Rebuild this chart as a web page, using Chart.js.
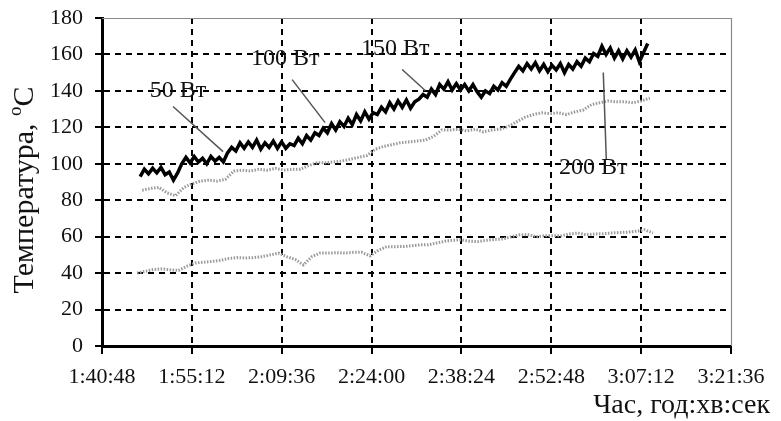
<!DOCTYPE html>
<html>
<head>
<meta charset="utf-8">
<script src="https://cdn.jsdelivr.net/npm/chart.js@4.4.1/dist/chart.umd.min.js"></script>
<style>
  html, body { margin: 0; padding: 0; background: #fff; }
  #wrap { width: 781px; height: 421px; }
</style>
</head>
<body>
<div id="wrap"><canvas id="c" width="781" height="421"></canvas></div>
<script>
// time axis in seconds since 0:00:00
const X_MIN = 6048, X_MAX = 12096, X_STEP = 864;
const Y_MIN = 0, Y_MAX = 180, Y_STEP = 20;

// upper (black) channel, logged every 40 s
const topStart = 6415, topStep = 40;
const topTemp = [
  93, 97, 94.5, 97.5, 95, 98, 94, 95.5, 91, 95,
  100, 103.5, 100.5, 104, 101, 103, 100, 104, 101.5, 103.5,
  101, 106, 109, 107, 111.5, 108.5, 112, 109, 113, 108,
  111.5, 109, 112.5, 108.5, 112, 108.5, 111, 110, 114, 111,
  115.5, 113, 117, 115.5, 119.5, 117, 122, 118.5, 123, 120.5,
  125, 121.5, 127, 123.5, 128.5, 124.5, 128, 127, 131, 128.5,
  133.5, 130, 134.5, 131, 135, 130.5, 134, 135.5, 138, 136.5,
  141, 138, 143.5, 141, 145, 140.5, 144, 140.5, 143.5, 140,
  143.5, 139.5, 136.5, 140, 138.5, 142.5, 140.5, 144.5, 142.5, 146.5,
  150, 153.5, 151, 155, 152, 155.5, 151, 154.5, 150.5, 154,
  151.5, 155, 150, 154.5, 152, 156, 153.5, 158, 156, 160.5,
  159, 164.5, 160, 163.5, 158, 162, 157.5, 162, 158.5, 162.5,
  156, 161, 166
];

// middle (grey) channel, every 80 s
const midStart = 6435, midStep = 80;
const midTemp = [
  85.5, 86.5, 87, 84, 82.5, 87, 89, 90.5, 91, 90.5,
  91.5, 96, 96.5, 96, 97, 96.5, 97.5, 96.5, 97, 97,
  99, 100.5, 100.5, 101, 101.5, 102.5, 103.5, 104.5, 108, 109.5,
  110.5, 111.5, 112, 112.5, 113, 115, 118.5, 118.5, 119, 118,
  119, 117.5, 118.5, 119, 120.5, 123, 125.5, 127, 128, 127.5,
  128, 127, 128.5, 129.5, 132.5, 133.5, 134.5, 134, 134, 133.5,
  134.5, 136
];

// lower (grey) channel, every 80 s
const lowStart = 6385, lowStep = 80;
const lowTemp = [
  40, 41, 42, 42.3, 41.8, 41.5, 43.8, 45.5, 46, 46.4,
  47, 48, 48.5, 48.3, 48.5, 49, 50, 51, 49, 47.5,
  44.5, 49, 51, 51, 51.2, 51, 51.4, 51.4, 49.5, 52.5,
  54.5, 54.5, 54.6, 55, 55.5, 55.5, 56.5, 57.5, 58, 58.3,
  57.5, 57.3, 58, 58.5, 58.7, 60, 61, 61, 60, 60.5,
  60.5, 60.5, 61.5, 62, 61, 61.5, 61.6, 62, 62.3, 62.5,
  63, 63.8, 62
];

// power labels: text anchor and leader line, in data units (s, °C)
const powerLabels = ['50 Вт', '100 Вт', '150 Вт', '200 Вт'];
const labelAt  = [[6779, 140.2], [7809, 157.8], [8867, 163.3], [10772, 97.9]];
const leaderFrom = [[6731, 131.4], [7876, 146.2], [8934, 151.7], [10868, 150.1]];
const leaderTo   = [[7212, 106.7], [8193, 122.6], [9156, 140.2], [10897, 102.3]];

const yTitle = 'Температура, ';
const xTitle = 'Час, год:хв:сек';

const SERIF = "'Liberation Serif', 'Times New Roman', serif";

function toPoints(start, step, arr) {
  return arr.map((v, i) => ({ x: start + i * step, y: v }));
}

function hms(sec) {
  const h = Math.floor(sec / 3600);
  const m = Math.floor((sec % 3600) / 60);
  const s = Math.round(sec % 60);
  return h + ':' + String(m).padStart(2, '0') + ':' + String(s).padStart(2, '0');
}

const decor = {
  id: 'decor',
  beforeDatasetsDraw(chart) {
    const { ctx, chartArea: a } = chart;
    ctx.save();
    ctx.strokeStyle = '#8a8a8a';
    ctx.lineWidth = 1.2;
    ctx.beginPath();
    ctx.moveTo(a.left, a.top + 0.5);
    ctx.lineTo(a.right + 0.5, a.top + 0.5);
    ctx.lineTo(a.right + 0.5, a.bottom);
    ctx.stroke();
    ctx.restore();
  },
  afterDraw(chart) {
    const { ctx, scales: { x, y } } = chart;
    ctx.save();
    // leader lines
    ctx.strokeStyle = '#555';
    ctx.lineWidth = 1.5;
    leaderFrom.forEach((p, i) => {
      const q = leaderTo[i];
      ctx.beginPath();
      ctx.moveTo(x.getPixelForValue(p[0]), y.getPixelForValue(p[1]));
      ctx.lineTo(x.getPixelForValue(q[0]), y.getPixelForValue(q[1]));
      ctx.stroke();
    });
    // power labels
    ctx.fillStyle = '#111';
    ctx.font = '24px ' + SERIF;
    ctx.textAlign = 'center';
    ctx.textBaseline = 'middle';
    powerLabels.forEach((t, i) => {
      ctx.fillText(t, x.getPixelForValue(labelAt[i][0]), y.getPixelForValue(labelAt[i][1]));
    });

    // y title, rotated, with superscript degree
    ctx.font = '30px ' + SERIF;
    const wMain = ctx.measureText(yTitle).width;
    const wC = ctx.measureText('C').width;
    ctx.font = '19px ' + SERIF;
    const wO = ctx.measureText('o').width;
    const total = wMain + wO + wC;
    ctx.translate(33, 190);
    ctx.rotate(-Math.PI / 2);
    ctx.textAlign = 'left';
    ctx.textBaseline = 'alphabetic';
    ctx.font = '30px ' + SERIF;
    ctx.fillText(yTitle, -total / 2, 0);
    ctx.font = '19px ' + SERIF;
    ctx.fillText('o', -total / 2 + wMain, -12);
    ctx.font = '30px ' + SERIF;
    ctx.fillText('C', -total / 2 + wMain + wO, 0);
    ctx.setTransform(1, 0, 0, 1, 0, 0);

    // x title, bottom right
    ctx.font = '28px ' + SERIF;
    ctx.textAlign = 'right';
    ctx.fillText(xTitle, 770, 413);
    ctx.restore();
  }
};

new Chart(document.getElementById('c'), {
  type: 'line',
  data: {
    datasets: [
      {
        data: toPoints(lowStart, lowStep, lowTemp),
        borderColor: '#9a9a9a',
        borderWidth: 3,
        borderDash: [1.5, 1.5],
        pointRadius: 0,
        tension: 0,
      },
      {
        data: toPoints(midStart, midStep, midTemp),
        borderColor: '#9a9a9a',
        borderWidth: 3,
        borderDash: [1.5, 1.5],
        pointRadius: 0,
        tension: 0,
      },
      {
        data: toPoints(topStart, topStep, topTemp),
        borderColor: '#000',
        borderWidth: 3.5,
        pointRadius: 0,
        tension: 0,
      },
    ],
  },
  options: {
    responsive: false,
    animation: false,
    devicePixelRatio: 1,
    layout: { padding: { left: 0, right: 50, top: 18, bottom: 0 } },
    plugins: { legend: { display: false }, tooltip: { enabled: false } },
    scales: {
      x: {
        type: 'linear',
        min: X_MIN,
        max: X_MAX,
        afterFit: s => { s.height = 75; s.paddingLeft = 0; s.paddingRight = 0; },
        ticks: {
          stepSize: X_STEP,
          color: '#111',
          font: { family: SERIF, size: 22 },
          padding: 10,
          maxRotation: 0,
          autoSkip: false,
          callback: v => hms(v),
        },
        grid: {
          color: c => (c.index === 0 || c.index === 7) ? 'rgba(0,0,0,0)' : '#000',
          lineWidth: 2,
          tickColor: '#000',
          tickWidth: 2,
          tickLength: 8,
          tickBorderDash: [],
        },
        border: { color: '#000', width: 3, dash: [6, 5] },
      },
      y: {
        min: Y_MIN,
        max: Y_MAX,
        afterFit: s => { s.width = 102; s.paddingTop = 0; s.paddingBottom = 0; },
        ticks: {
          stepSize: Y_STEP,
          color: '#111',
          font: { family: SERIF, size: 22 },
          padding: 12,
        },
        grid: {
          color: c => (c.index === 0 || c.index === 9) ? 'rgba(0,0,0,0)' : '#000',
          lineWidth: 2,
          tickColor: '#000',
          tickWidth: 2,
          tickLength: 7,
          tickBorderDash: [],
        },
        border: { color: '#000', width: 3, dash: [6, 5] },
      },
    },
  },
  plugins: [decor],
});
</script>
</body>
</html>
